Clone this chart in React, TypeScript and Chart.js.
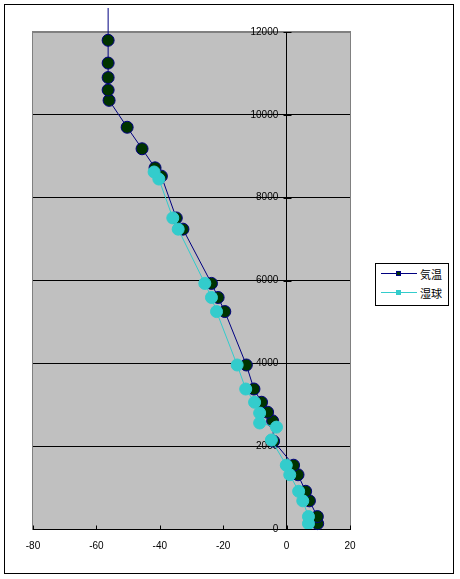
import React, { useEffect, useRef } from "react";
import { Chart, registerables } from "chart.js";

Chart.register(...registerables);

// Temperature (気温) profile: altitude (m) and value (°C)
const tempAlt = [130, 300, 680, 910, 1310, 1540, 2120, 2610, 2820, 3060, 3380, 3960, 5250, 5590, 5930, 7240, 7510, 8520, 8720, 9180, 9700, 10350, 10600, 10900, 11250, 11800, 13000];
const tempC = [9.8, 9.7, 7.2, 6.0, 3.6, 2.2, -4.1, -4.4, -6.0, -7.9, -10.3, -12.7, -19.5, -21.6, -23.7, -32.7, -34.8, -39.5, -41.5, -45.6, -50.3, -56.0, -56.3, -56.3, -56.3, -56.3, -56.3];

// Wet-bulb (湿球) profile
const wetAlt = [130, 300, 680, 910, 1310, 1540, 2150, 2460, 2560, 2800, 3060, 3380, 3960, 5250, 5590, 5930, 7240, 7510, 8450, 8620];
const wetC = [6.9, 6.9, 5.1, 3.8, 1.0, -0.1, -4.8, -3.2, -8.5, -8.5, -10.1, -12.9, -15.6, -22.1, -23.7, -25.8, -34.2, -35.9, -40.3, -41.8];

const seriesNames = ["気温", "湿球"];
const xTicks = [-80, -60, -40, -20, 0, 20];
const yTicks = [0, 2000, 4000, 6000, 8000, 10000, 12000];

const TEMP_FILL = "#003300";
const TEMP_LINE = "#000080";
const WET = "#33CCCC";

const plotBg = {
  id: "plotBg",
  beforeDraw(chart: any) {
    const { ctx, chartArea } = chart;
    const { left, top, right, bottom } = chartArea;
    ctx.save();
    ctx.fillStyle = "#C0C0C0";
    ctx.fillRect(left, top, right - left, bottom - top);
    ctx.strokeStyle = "#808080";
    ctx.lineWidth = 1;
    ctx.strokeRect(left - 0.5, top - 0.5, right - left + 1, bottom - top + 1);
    ctx.restore();
  },
  afterDatasetsDraw(chart: any) {
    const { ctx, scales } = chart;
    const xs = scales.x;
    const ys = scales.y;
    ctx.save();
    ctx.strokeStyle = "#000";
    ctx.lineWidth = 1;
    const yb = Math.round(ys.getPixelForValue(0)) + 0.5;
    xTicks.forEach((v) => {
      const px = Math.round(xs.getPixelForValue(v)) + 0.5;
      ctx.beginPath();
      ctx.moveTo(px, yb);
      ctx.lineTo(px, yb - 4);
      ctx.stroke();
    });
    const x0 = Math.round(xs.getPixelForValue(0)) + 0.5;
    yTicks.forEach((v) => {
      const py = Math.round(ys.getPixelForValue(v)) + 0.5;
      ctx.beginPath();
      ctx.moveTo(x0 - 4, py);
      ctx.lineTo(x0 + 4, py);
      ctx.stroke();
    });
    ctx.restore();
  },
};

export default function App() {
  const ref = useRef<HTMLCanvasElement | null>(null);

  useEffect(() => {
    if (!ref.current) return;
    const tempData = tempAlt.map((a, i) => ({ x: tempC[i], y: a }));
    const wetData = wetAlt.map((a, i) => ({ x: wetC[i], y: a }));
    const chart = new Chart(ref.current, {
      type: "scatter",
      data: {
        datasets: [
          {
            label: seriesNames[1],
            data: wetData,
            showLine: true,
            borderColor: WET,
            borderWidth: 1,
            backgroundColor: WET,
            pointBackgroundColor: WET,
            pointBorderColor: WET,
            pointRadius: 6,
            pointBorderWidth: 1,
            tension: 0,
          },
          {
            label: seriesNames[0],
            data: tempData,
            showLine: true,
            borderColor: TEMP_LINE,
            borderWidth: 1,
            backgroundColor: TEMP_FILL,
            pointBackgroundColor: TEMP_FILL,
            pointBorderColor: TEMP_LINE,
            pointRadius: (c: any) => (c.dataIndex === tempAlt.length - 1 ? 0 : 6),
            pointBorderWidth: 1,
            tension: 0,
            clip: { left: 5, top: 24, right: 5, bottom: 5 },
          },
        ],
      },
      options: {
        responsive: false,
        animation: false,
        events: [],
        layout: { padding: { left: 33, right: 110, top: 32, bottom: 0 } },
        plugins: {
          legend: { display: false },
          tooltip: { enabled: false },
        },
        scales: {
          x: {
            type: "linear",
            position: "bottom",
            min: -80,
            max: 20,
            afterBuildTicks: (s: any) => {
              s.ticks = xTicks.map((v) => ({ value: v }));
            },
            afterFit: (s: any) => {
              s.height = 50;
            },
            grid: { display: false, drawTicks: false },
            border: { display: true, color: "#000", width: 1 },
            ticks: {
              color: "#000",
              padding: 11,
              maxRotation: 0,
              font: { family: "Liberation Sans", size: 10 },
            },
          },
          y: {
            type: "linear",
            position: { x: 0 },
            min: 0,
            max: 12000,
            afterBuildTicks: (s: any) => {
              s.ticks = yTicks.map((v) => ({ value: v }));
            },
            grid: {
              color: (c: any) => (c.tick && c.tick.value === 12000 ? "#808080" : "#000"),
              lineWidth: 1,
              drawTicks: false,
            },
            border: { display: true, color: "#000", width: 1 },
            ticks: {
              color: "#000",
              padding: 7,
              font: { family: "Liberation Sans", size: 10 },
              callback: (v: any) => String(v) + "   ",
            },
          },
        },
      },
      plugins: [plotBg],
    });
    return () => chart.destroy();
  }, []);

  const legendRow = (name: string, line: string, fill: string, border: string, top: number) => (
    <div style={{ position: "absolute", left: 0, top, width: 72, height: 12 }}>
      <div style={{ position: "absolute", left: 5, top: 5, width: 36, height: 1, background: line }} />
      <div
        style={{
          position: "absolute",
          left: 20,
          top: 3,
          width: 3,
          height: 3,
          background: fill,
          border: `1px solid ${border}`,
        }}
      />
      <div
        style={{
          position: "absolute",
          left: 44,
          top: -2,
          fontFamily: '"Noto Sans CJK JP", sans-serif',
          fontSize: 11,
          lineHeight: "16px",
          color: "#000",
          whiteSpace: "nowrap",
        }}
      >
        {name}
      </div>
    </div>
  );

  return (
    <div style={{ position: "absolute", left: 0, top: 0, width: 460, height: 579, background: "#fff", overflow: "hidden" }}>
      <canvas ref={ref} width={460} height={579} style={{ position: "absolute", left: 0, top: 0 }} />
      <div
        style={{
          position: "absolute",
          left: 4,
          top: 4,
          width: 448,
          height: 568,
          border: "1px solid #000",
          pointerEvents: "none",
        }}
      />
      <div
        style={{
          position: "absolute",
          left: 375,
          top: 263,
          width: 72,
          height: 41,
          border: "1px solid #000",
          background: "#fff",
        }}
      >
        {legendRow(seriesNames[0], TEMP_LINE, TEMP_FILL, TEMP_LINE, 4)}
        {legendRow(seriesNames[1], WET, WET, WET, 23)}
      </div>
    </div>
  );
}
